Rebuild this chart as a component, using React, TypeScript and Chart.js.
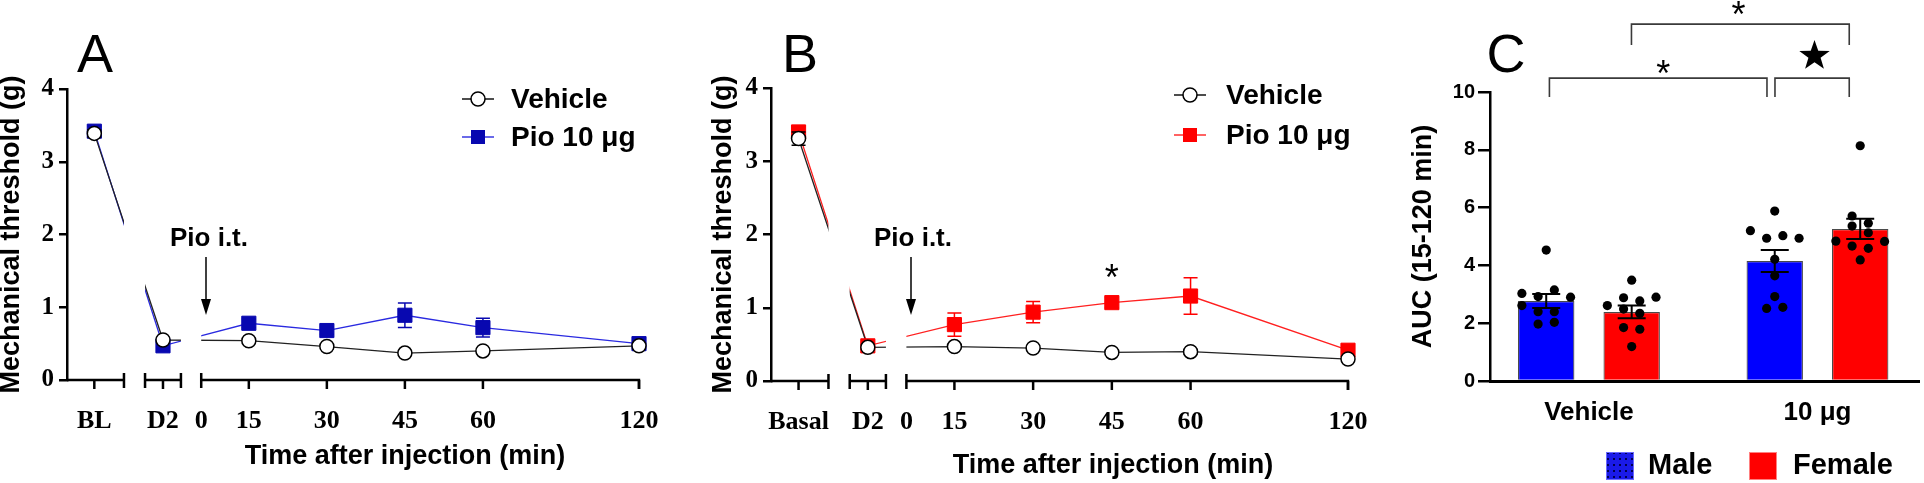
import React, { useEffect, useRef } from 'react';
import { Chart, registerables } from 'chart.js';
Chart.register(...registerables);

const SANS = '"Liberation Sans", Arial, sans-serif';
const SERIF = '"Liberation Serif", "Times New Roman", serif';

// ---------- Panels A & B : time course ----------
// slot positions of the broken x axis (15-min step = 1 slot)
const TC_TICK_SLOT = [-1.98, -1.1, -0.61, 0, 1, 2, 3, 5];
const A_TICK_LABELS = ['BL', 'D2', '0', '15', '30', '45', '60', '120'];
const B_TICK_LABELS = ['Basal', 'D2', '0', '15', '30', '45', '60', '120'];
const TC_POINT_TICKS = [0, 1, 3, 4, 5, 6, 7]; // ticks that carry measurements
const TC_SEGMENTS = [[-2.33, -1.6], [-1.33, -0.87], [-0.61, 5]];
const TC_X_MIN = -2.33;
const TC_X_MAX = 5;

const A_VEH = [3.39, 0.55, 0.54, 0.46, 0.37, 0.40, 0.47];
const A_VEH_SEM = [0.05, 0.03, 0.03, 0.03, 0.03, 0.03, 0.03];
const A_PIO = [3.42, 0.47, 0.78, 0.68, 0.89, 0.72, 0.50];
const A_PIO_SEM = [0.07, 0.03, 0.06, 0.05, 0.17, 0.13, 0.04];

const B_VEH = [3.31, 0.46, 0.47, 0.45, 0.39, 0.40, 0.30];
const B_VEH_SEM = [0.09, 0.03, 0.03, 0.03, 0.03, 0.03, 0.03];
const B_PIO = [3.40, 0.48, 0.77, 0.94, 1.07, 1.16, 0.42];
const B_PIO_SEM = [0.07, 0.04, 0.16, 0.145, 0.07, 0.25, 0.04];
const B_STAR_SLOT = 2; // 45 min
const B_STAR_VALUE = 1.52;

// ---------- Panel C : AUC ----------
const C_GROUPS = ['Vehicle', '10 μg'];
const C_MALE_MEAN = [2.77, 4.15];
const C_MALE_SEM = [0.24, 0.38];
const C_FEMALE_MEAN = [2.39, 5.26];
const C_FEMALE_SEM = [0.22, 0.35];
const C_VM_DOTS = [4.53, 3.15, 3.03, 2.92, 2.90, 2.61, 2.40, 2.40, 1.97, 2.03];
const C_VM_COL = [0, 1, -3, -1, 3, -3, -1, 1, -1, 1];
const C_VF_DOTS = [3.49, 2.61, 2.88, 2.77, 2.90, 2.49, 2.34, 1.85, 1.79, 1.19];
const C_VF_COL = [0, -3, -1, 1, 3, -1, 1, -1, 1, 0];
const C_DM_DOTS = [5.88, 5.20, 4.94, 5.03, 4.94, 4.21, 3.64, 2.92, 2.51, 2.55];
const C_DM_COL = [0, -3, -1, 1, 3, 0, 0, 0, -1, 1];
const C_DF_DOTS = [8.14, 5.71, 5.46, 5.36, 5.13, 4.84, 4.83, 4.67, 4.59, 4.19];
const C_DF_COL = [0, -1, 1, -1, 1, -3, 3, -1, 1, 0];
const C_X_MIN = -0.433;
const C_X_MAX = 1.446;
const C_BAR_OFFSET = 0.187;
const C_JITTER_STEP = 0.0355;

const tcPoints = (vals: number[]) =>
  vals.map((v, i) => ({ x: TC_TICK_SLOT[TC_POINT_TICKS[i]], y: v }));

function drawErrBars(chart: any, ds: any, capHalf: number, lw: number) {
  const ctx = chart.ctx, xs = chart.scales.x, ys = chart.scales.y;
  ctx.save();
  ctx.strokeStyle = ds.errColor;
  ctx.lineWidth = lw;
  ds.data.forEach((p: any, i: number) => {
    const s = ds.sem[i];
    const px = xs.getPixelForValue(p.x);
    const t = ys.getPixelForValue(p.y + s);
    const b = ys.getPixelForValue(p.y - s);
    ctx.beginPath();
    ctx.moveTo(px, t); ctx.lineTo(px, b);
    ctx.moveTo(px - capHalf, t); ctx.lineTo(px + capHalf, t);
    ctx.moveTo(px - capHalf, b); ctx.lineTo(px + capHalf, b);
    ctx.stroke();
  });
  ctx.restore();
}

function drawAsterisk(ctx: CanvasRenderingContext2D, cx: number, cy: number, size: number) {
  ctx.save();
  ctx.fillStyle = '#000';
  ctx.font = `${size}px ${SANS}`;
  ctx.textAlign = 'center';
  ctx.textBaseline = 'alphabetic';
  ctx.fillText('*', cx, cy + size * 0.575);
  ctx.restore();
}

function timeCourseConfig(p: any) {
  const plugin = {
    id: 'tc',
    beforeDatasetsDraw(chart: any) {
      const ctx = chart.ctx, xs = chart.scales.x, y0 = chart.chartArea.bottom;
      ctx.save();
      ctx.strokeStyle = '#000';
      ctx.lineWidth = 2.5;
      const last = TC_SEGMENTS.length - 1;
      TC_SEGMENTS.forEach(([a, b], i) => {
        const l = i === 0 ? chart.chartArea.left : xs.getPixelForValue(a);
        const r = xs.getPixelForValue(b);
        ctx.beginPath();
        ctx.moveTo(l, y0); ctx.lineTo(r + 1.2, y0);
        if (i > 0) { ctx.moveTo(l, y0 - 7); ctx.lineTo(l, y0 + 8); }
        if (i < last) { ctx.moveTo(r, y0 - 7); ctx.lineTo(r, y0 + 8); }
        else { ctx.moveTo(r, y0); ctx.lineTo(r, y0 + 9); }
        ctx.stroke();
      });
      TC_POINT_TICKS.forEach((ti) => {
        const px = xs.getPixelForValue(TC_TICK_SLOT[ti]);
        ctx.beginPath(); ctx.moveTo(px, y0); ctx.lineTo(px, y0 + 9); ctx.stroke();
      });
      ctx.restore();
    },
    beforeDatasetDraw(chart: any, args: any) {
      const ds = chart.data.datasets[args.index];
      const ctx = chart.ctx;
      if (ds.segClip) {
        const xs = chart.scales.x;
        ctx.save();
        ctx.beginPath();
        const last = TC_SEGMENTS.length - 1;
        TC_SEGMENTS.forEach(([a, b], i) => {
          const l = i === 0 ? 0 : xs.getPixelForValue(a);
          const r = i === last ? chart.width : xs.getPixelForValue(b);
          ctx.rect(l, 0, r - l, chart.height);
        });
        ctx.clip();
      }
      if (ds.sem) drawErrBars(chart, ds, 7, 1.5);
    },
    afterDatasetDraw(chart: any, args: any) {
      const ds = chart.data.datasets[args.index];
      if (ds.segClip) chart.ctx.restore();
    },
    afterDraw(chart: any) {
      const ctx = chart.ctx, ca = chart.chartArea, xs = chart.scales.x, ys = chart.scales.y;
      ctx.save();
      ctx.fillStyle = '#000';
      // panel letter
      ctx.font = `54px ${SANS}`;
      ctx.textAlign = 'center';
      ctx.textBaseline = 'alphabetic';
      ctx.fillText(p.letter, p.letterX, 72);
      // y title
      ctx.save();
      ctx.translate(p.yTitleX, (ca.top + ca.bottom) / 2);
      ctx.rotate(-Math.PI / 2);
      ctx.font = `bold 27px ${SANS}`;
      ctx.textBaseline = 'middle';
      ctx.fillText('Mechanical threshold (g)', 0, 0);
      ctx.restore();
      // x title
      ctx.font = `bold 27px ${SANS}`;
      ctx.textBaseline = 'middle';
      ctx.fillText('Time after injection (min)', p.xTitleX, p.xTitleY);
      // Pio i.t. arrow
      ctx.font = `bold 26px ${SANS}`;
      ctx.fillText('Pio i.t.', p.itX, 239);
      ctx.strokeStyle = '#000';
      ctx.lineWidth = 1.5;
      ctx.beginPath(); ctx.moveTo(p.arrowX, 257); ctx.lineTo(p.arrowX, 302); ctx.stroke();
      ctx.beginPath();
      ctx.moveTo(p.arrowX - 5, 299); ctx.lineTo(p.arrowX + 5, 299); ctx.lineTo(p.arrowX, 315);
      ctx.closePath(); ctx.fill();
      // significance
      if (p.star) drawAsterisk(ctx, xs.getPixelForValue(TC_TICK_SLOT[p.star.tick]), ys.getPixelForValue(p.star.value), 36);
      // legend
      const L = p.legend;
      L.rows.forEach((r: any) => {
        ctx.strokeStyle = r.line;
        ctx.lineWidth = 1.4;
        ctx.beginPath(); ctx.moveTo(L.x0, r.y); ctx.lineTo(L.x1, r.y); ctx.stroke();
        if (r.kind === 'circle') {
          ctx.beginPath(); ctx.arc(L.mx, r.y, 7, 0, Math.PI * 2);
          ctx.fillStyle = '#fff'; ctx.fill();
          ctx.strokeStyle = '#000'; ctx.lineWidth = 1.5; ctx.stroke();
        } else {
          ctx.fillStyle = r.color;
          ctx.fillRect(L.mx - 7, r.y - 7, 14, 14);
        }
        ctx.fillStyle = '#000';
        ctx.font = `bold 28px ${SANS}`;
        ctx.textAlign = 'left';
        ctx.textBaseline = 'middle';
        ctx.fillText(r.text, L.tx, r.y + 1);
      });
      ctx.restore();
    },
  };

  return {
    type: 'line',
    data: {
      datasets: [
        { label: 'pioLine', data: tcPoints(p.pio), borderColor: p.pioLine, borderWidth: 1.3, pointRadius: 0, segClip: true, clip: false, order: 4 },
        { label: 'vehLine', data: tcPoints(p.veh), borderColor: '#222', borderWidth: 1.3, pointRadius: 0, segClip: true, clip: false, order: 3 },
        { label: 'Pio 10 μg', data: tcPoints(p.pio), showLine: false, pointStyle: 'rect', pointRadius: 10, backgroundColor: p.pioMarker, borderColor: p.pioMarker, borderWidth: 1, sem: p.pioSem, errColor: p.pioMarker, clip: false, order: 2 },
        { label: 'Vehicle', data: tcPoints(p.veh), showLine: false, pointStyle: 'circle', pointRadius: 7, backgroundColor: '#fff', borderColor: '#000', borderWidth: 1.5, sem: p.vehSem, errColor: '#000', clip: false, order: 1 },
      ],
    },
    options: {
      animation: false,
      responsive: false,
      maintainAspectRatio: false,
      layout: { padding: { top: p.top, right: p.padRight, left: 0, bottom: 0 } },
      plugins: { legend: { display: false }, tooltip: { enabled: false } },
      scales: {
        x: {
          type: 'linear',
          min: TC_X_MIN,
          max: TC_X_MAX,
          grid: { display: false, drawTicks: false },
          border: { display: false },
          afterBuildTicks: (s: any) => { s.ticks = TC_TICK_SLOT.map((v) => ({ value: v })); },
          afterFit: (s: any) => { s.height = 483 - p.bottom; },
          ticks: {
            autoSkip: false, maxRotation: 0, minRotation: 0, padding: 26, color: '#000',
            font: { family: SERIF, weight: 'bold', size: 26 },
            callback: (_v: any, i: number) => p.labels[i],
          },
        },
        y: {
          min: 0, max: 4,
          afterFit: (s: any) => { s.width = p.axisW; },
          ticks: { stepSize: 1, color: '#000', padding: 5, font: { family: SERIF, weight: 'bold', size: 25 } },
          grid: { drawOnChartArea: false, drawTicks: true, tickLength: 8, color: '#000', lineWidth: 2.5 },
          border: { color: '#000', width: 2.5 },
        },
      },
    },
    plugins: [plugin],
  };
}

const A_CFG = {
  labels: A_TICK_LABELS, veh: A_VEH, vehSem: A_VEH_SEM, pio: A_PIO, pioSem: A_PIO_SEM,
  pioMarker: '#0808b0', pioLine: '#2a2ae0',
  axisW: 67, padRight: 61, top: 89, bottom: 380,
  letter: 'A', letterX: 95, yTitleX: 12, xTitleX: 405, xTitleY: 457,
  itX: 209, arrowX: 206,
  legend: { x0: 462, x1: 494, mx: 478, tx: 511, rows: [
    { y: 99, kind: 'circle', text: 'Vehicle', line: '#000' },
    { y: 137, kind: 'rect', text: 'Pio 10 μg', line: '#2a2ae0', color: '#0808b0' },
  ] },
};

const B_CFG = {
  labels: B_TICK_LABELS, veh: B_VEH, vehSem: B_VEH_SEM, pio: B_PIO, pioSem: B_PIO_SEM,
  pioMarker: '#ff0000', pioLine: '#ff2020',
  axisW: 71, padRight: 52, top: 88, bottom: 381,
  letter: 'B', letterX: 100, yTitleX: 24, xTitleX: 413, xTitleY: 466,
  itX: 213, arrowX: 211,
  star: { tick: 5, value: B_STAR_VALUE },
  legend: { x0: 474, x1: 506, mx: 490, tx: 526, rows: [
    { y: 95, kind: 'circle', text: 'Vehicle', line: '#000' },
    { y: 135, kind: 'rect', text: 'Pio 10 μg', line: '#ff2020', color: '#ff0000' },
  ] },
};

function dots(vals: number[], cols: number[], center: number) {
  return vals.map((v, i) => ({ x: center + cols[i] * C_JITTER_STEP, y: v }));
}

function drawStar(ctx: CanvasRenderingContext2D, cx: number, cy: number, R: number) {
  const r = R * 0.4;
  ctx.beginPath();
  for (let k = 0; k < 10; k++) {
    const ang = -Math.PI / 2 + (k * Math.PI) / 5;
    const rad = k % 2 === 0 ? R : r;
    const x = cx + rad * Math.cos(ang), y = cy + rad * Math.sin(ang);
    if (k === 0) ctx.moveTo(x, y); else ctx.lineTo(x, y);
  }
  ctx.closePath();
  ctx.fill();
}

function aucConfig() {
  const maleX = C_GROUPS.map((_g, i) => i - C_BAR_OFFSET);
  const femaleX = C_GROUPS.map((_g, i) => i + C_BAR_OFFSET);
  const plugin = {
    id: 'auc',
    afterDatasetDraw(chart: any, args: any) {
      const ds = chart.data.datasets[args.index];
      if (ds.sem) drawErrBars(chart, ds, 14, 2);
    },
    afterDraw(chart: any) {
      const ctx = chart.ctx, ca = chart.chartArea, xs = chart.scales.x, ys = chart.scales.y;
      ctx.save();
      ctx.fillStyle = '#000';
      ctx.font = `54px ${SANS}`;
      ctx.textAlign = 'center';
      ctx.fillText('C', 111, 72);
      // y title
      ctx.save();
      ctx.translate(29, (ca.top + ca.bottom) / 2);
      ctx.rotate(-Math.PI / 2);
      ctx.font = `bold 27px ${SANS}`;
      ctx.textBaseline = 'middle';
      ctx.fillText('AUC (15-120 min)', 0, 0);
      ctx.restore();
      // brackets
      ctx.strokeStyle = '#3a3a3a';
      ctx.lineWidth = 1.6;
      const bracket = (x1: number, x2: number, yTop: number, yLeg: number) => {
        const a = xs.getPixelForValue(x1), b = xs.getPixelForValue(x2);
        const t = ys.getPixelForValue(yTop), l = ys.getPixelForValue(yLeg);
        ctx.beginPath();
        ctx.moveTo(a, l); ctx.lineTo(a, t); ctx.lineTo(b, t); ctx.lineTo(b, l);
        ctx.stroke();
      };
      bracket(-0.173, 0.779, 10.48, 9.83);
      bracket(0.814, 1.139, 10.48, 9.83);
      bracket(0.186, 1.139, 12.35, 11.63);
      drawAsterisk(ctx, xs.getPixelForValue(0.325), ys.getPixelForValue(10.93), 36);
      drawAsterisk(ctx, xs.getPixelForValue(0.654), ys.getPixelForValue(12.98), 36);
      ctx.fillStyle = '#000';
      drawStar(ctx, xs.getPixelForValue(0.987), ys.getPixelForValue(11.25), 16);
      // legend
      const pc = document.createElement('canvas');
      pc.width = 6; pc.height = 6;
      const pctx = pc.getContext('2d')!;
      pctx.fillStyle = '#1a1ae8'; pctx.fillRect(0, 0, 6, 6);
      pctx.fillStyle = '#000050'; pctx.fillRect(2, 2, 2, 2);
      ctx.fillStyle = ctx.createPattern(pc, 'repeat') as any;
      ctx.fillRect(211, 452, 28, 28);
      ctx.strokeStyle = '#6a6aff'; ctx.lineWidth = 1;
      ctx.strokeRect(211.5, 452.5, 27, 27);
      ctx.fillStyle = '#ff0000';
      ctx.fillRect(354, 452, 28, 28);
      ctx.strokeStyle = '#ff8080';
      ctx.strokeRect(354.5, 452.5, 27, 27);
      ctx.fillStyle = '#000';
      ctx.font = `bold 29px ${SANS}`;
      ctx.textAlign = 'left';
      ctx.textBaseline = 'middle';
      ctx.fillText('Male', 253, 466);
      ctx.fillText('Female', 398, 466);
      ctx.restore();
    },
  };
  const dotStyle = { type: 'scatter', pointRadius: 4.6, backgroundColor: '#000', borderWidth: 0, order: 0, clip: false };
  return {
    type: 'bar',
    data: {
      datasets: [
        { type: 'bar', label: 'Male', data: C_GROUPS.map((_g, i) => ({ x: maleX[i], y: C_MALE_MEAN[i] })), backgroundColor: '#0000ff', borderColor: '#4a4a4a', borderWidth: 1.2, grouped: false, categoryPercentage: 1, barPercentage: 0.66, sem: C_MALE_SEM, errColor: '#000', order: 2 },
        { type: 'bar', label: 'Female', data: C_GROUPS.map((_g, i) => ({ x: femaleX[i], y: C_FEMALE_MEAN[i] })), backgroundColor: '#ff0000', borderColor: '#4a4a4a', borderWidth: 1.2, grouped: false, categoryPercentage: 1, barPercentage: 0.66, sem: C_FEMALE_SEM, errColor: '#000', order: 2 },
        { ...dotStyle, label: 'vm', data: dots(C_VM_DOTS, C_VM_COL, maleX[0]) },
        { ...dotStyle, label: 'vf', data: dots(C_VF_DOTS, C_VF_COL, femaleX[0]) },
        { ...dotStyle, label: 'dm', data: dots(C_DM_DOTS, C_DM_COL, maleX[1]) },
        { ...dotStyle, label: 'df', data: dots(C_DF_DOTS, C_DF_COL, femaleX[1]) },
      ],
    },
    options: {
      animation: false,
      responsive: false,
      maintainAspectRatio: false,
      layout: { padding: { top: 92, right: 0, left: 0, bottom: 0 } },
      plugins: { legend: { display: false }, tooltip: { enabled: false } },
      scales: {
        x: {
          type: 'linear', min: C_X_MIN, max: C_X_MAX, offset: false,
          grid: { display: false, drawTicks: false },
          border: { display: true, color: '#000', width: 3 },
          afterBuildTicks: (s: any) => { s.ticks = C_GROUPS.map((_g, i) => ({ value: i })); },
          afterFit: (s: any) => { s.height = 483 - 381; },
          ticks: {
            autoSkip: false, maxRotation: 0, padding: 16, color: '#000',
            font: { family: SANS, weight: 'bold', size: 26 },
            callback: (_v: any, i: number) => C_GROUPS[i],
          },
        },
        y: {
          min: 0, max: 10,
          afterFit: (s: any) => { s.width = 95; },
          ticks: { stepSize: 2, color: '#000', padding: 3, font: { family: SANS, weight: 'bold', size: 20 } },
          grid: { drawOnChartArea: false, drawTicks: true, tickLength: 12, color: '#000', lineWidth: 2.5 },
          border: { color: '#000', width: 2.5 },
        },
      },
    },
    plugins: [plugin],
  };
}

export default function App() {
  const refA = useRef<HTMLCanvasElement>(null);
  const refB = useRef<HTMLCanvasElement>(null);
  const refC = useRef<HTMLCanvasElement>(null);
  useEffect(() => {
    const charts = [
      new Chart(refA.current as any, timeCourseConfig(A_CFG) as any),
      new Chart(refB.current as any, timeCourseConfig(B_CFG) as any),
      new Chart(refC.current as any, aucConfig() as any),
    ];
    return () => charts.forEach((c) => c.destroy());
  }, []);
  const cs = (left: number, w: number): React.CSSProperties => ({ position: 'absolute', left, top: 0, width: w, height: 483 });
  return (
    <div style={{ position: 'absolute', left: 0, top: 0, width: 1924, height: 483, background: '#fff', overflow: 'hidden' }}>
      <canvas ref={refA} width={700} height={483} style={cs(0, 700)} />
      <canvas ref={refB} width={700} height={483} style={cs(700, 700)} />
      <canvas ref={refC} width={529} height={483} style={cs(1395, 529)} />
    </div>
  );
}
